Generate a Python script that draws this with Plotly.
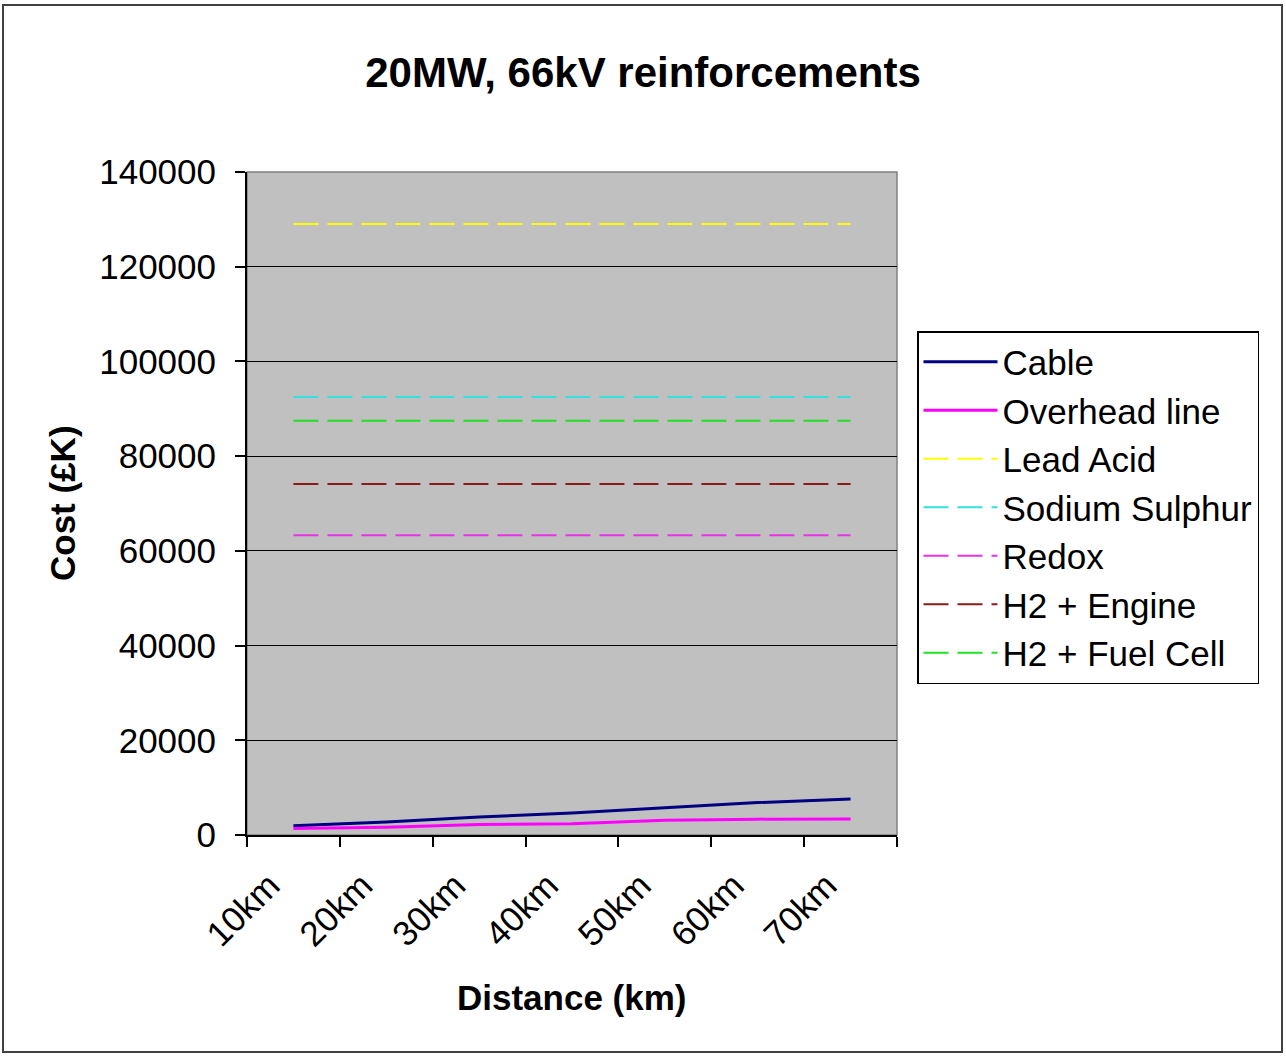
import plotly.graph_objects as go

# Distance categories along the route
distances = ["10km", "20km", "30km", "40km", "50km", "60km", "70km"]

# Network reinforcement costs (£K) per distance
cable_cost = [1950, 2750, 3800, 4650, 5750, 6850, 7600]
overhead_cost = [1350, 1650, 2200, 2400, 3100, 3350, 3400]

# Storage alternatives (£K) - independent of distance
lead_acid = [129000] * 7
sodium_sulphur = [92500] * 7
redox = [63300] * 7
h2_engine = [74100] * 7
h2_fuel_cell = [87500] * 7

series = [
    ("Cable", cable_cost, "#000080", "solid", 3),
    ("Overhead line", overhead_cost, "#FF00FF", "solid", 3),
    ("Lead Acid", lead_acid, "#FFFF00", "25px,9px", 2),
    ("Sodium Sulphur", sodium_sulphur, "#33E0E0", "25px,9px", 2),
    ("Redox", redox, "#E633E6", "25px,9px", 2),
    ("H2 + Engine", h2_engine, "#8B1A1A", "25px,9px", 2),
    ("H2 + Fuel Cell", h2_fuel_cell, "#22E022", "25px,9px", 2),
]

FONT = "Arial, Liberation Sans, sans-serif"

fig = go.Figure()
for name, vals, color, dash, width in series:
    fig.add_trace(go.Scatter(
        x=distances, y=vals, name=name, mode="lines",
        line=dict(color=color, dash=dash, width=width),
    ))

W, H = 1286, 1057
L, R, T, B = 247, 897, 172, 835
pw, ph = R - L, B - T


def px_x(x):
    return (x - L) / pw


def px_y(y):
    return (B - y) / ph


fig.update_layout(
    width=W, height=H,
    margin=dict(l=L, r=W - R, t=T, b=H - B, pad=0),
    paper_bgcolor="white",
    plot_bgcolor="#C0C0C0",
    font=dict(family=FONT, size=35, color="black"),
    title=dict(
        text="<b>20MW, 66kV reinforcements</b>",
        font=dict(size=42, family=FONT, color="black"),
        x=0.5, xref="container", xanchor="center",
        y=1 - 72 / H, yref="container", yanchor="middle",
    ),
    showlegend=True,
    legend=dict(
        x=px_x(917), y=px_y(331), xanchor="left", yanchor="top",
        bgcolor="white", bordercolor="black", borderwidth=1.5,
        font=dict(size=35, family=FONT, color="black"),
        itemwidth=74,
    ),
    xaxis=dict(
        type="category",
        tickson="boundaries",
        ticks="outside", ticklen=10, tickcolor="black", tickwidth=1.5,
        tickangle=-45,
        ticklabelshift=-24,
        ticklabelstandoff=14,
        showgrid=False,
        showline=True, linecolor="black", linewidth=2,
        tickfont=dict(size=35, family=FONT, color="black"),
        range=[-0.5, 6.5],
    ),
    yaxis=dict(
        range=[0, 140000],
        dtick=20000,
        tickformat="d",
        ticks="outside", ticklen=10, tickcolor="black", tickwidth=1.5,
        ticklabelstandoff=12,
        showgrid=True, gridcolor="black", gridwidth=1.2,
        showline=True, linecolor="black", linewidth=2,
        zeroline=False,
        tickfont=dict(size=35, family=FONT, color="black"),
    ),
    annotations=[
        dict(text="<b>Distance (km)</b>", x=0.5, y=px_y(997),
             xref="paper", yref="paper", showarrow=False,
             xanchor="center", yanchor="middle",
             font=dict(size=35, family=FONT, color="black")),
        dict(text="<b>Cost (£K)</b>", x=px_x(62), y=px_y(503),
             xref="paper", yref="paper", showarrow=False, textangle=-90,
             xanchor="center", yanchor="middle",
             font=dict(size=35, family=FONT, color="black")),
    ],
    shapes=[
        # plot area frame
        dict(type="rect", xref="paper", yref="paper", x0=0, y0=0, x1=1, y1=1,
             line=dict(color="#808080", width=1.5), layer="below"),
        # chart border
        dict(type="rect", xref="paper", yref="paper",
             x0=px_x(3), x1=px_x(1282), y0=px_y(1052), y1=px_y(5),
             line=dict(color="#404040", width=2)),
    ],
)

fig.write_html("out.html")
